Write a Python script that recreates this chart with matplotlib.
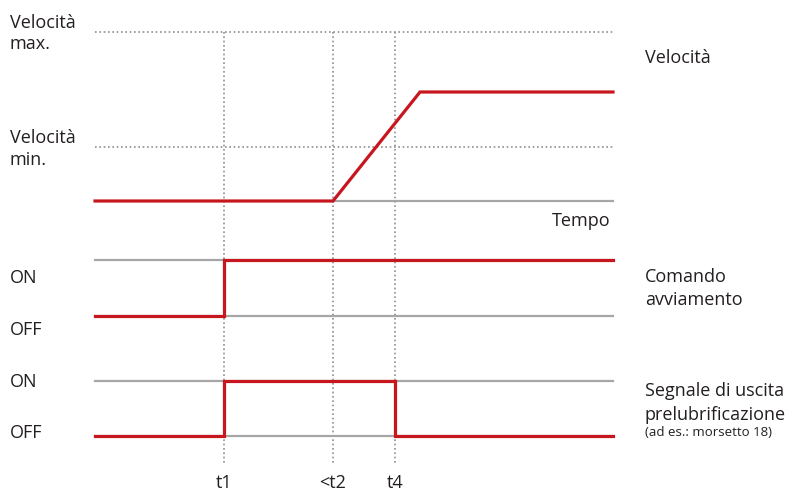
import matplotlib
matplotlib.use("Agg")
import matplotlib.pyplot as plt

plt.rcParams['font.family'] = ['Open Sans', 'DejaVu Sans']

# Time axis (pixel-like horizontal units)
t_start = 95
t1 = 224
t2 = 333
t4 = 395
t_ramp_end = 420
t_end = 613
tick_times = [t1, t2, t4]
tick_labels = ["t1", "<t2", "t4"]

# Vertical levels (pixel-like units, downward)
vel_max = 32
vel_min = 147
vel_top = 92
vel_zero = 201
cmd_on, cmd_off = 260, 316
pre_on, pre_off = 381, 436

# Traces
speed_t = [t_start, t2, t_ramp_end, t_end]
speed_v = [vel_zero, vel_zero, vel_top, vel_top]
cmd_t = [t_start, t1, t1, t_end]
cmd_v = [cmd_off, cmd_off, cmd_on, cmd_on]
pre_t = [t_start, t1, t1, t4, t4, t_end]
pre_v = [pre_off, pre_off, pre_on, pre_on, pre_off, pre_off]

RED = "#c8161e"
GRAY = "#a6a6a6"
DOT = "#8f8f8f"
TXT = "#231f20"

fig = plt.figure(figsize=(7.97, 4.91), dpi=100)
ax = fig.add_axes([0, 0, 1, 1])
ax.set_xlim(0, 797)
ax.set_ylim(491, 0)
ax.axis("off")

# dotted guides
dot_style = dict(color=DOT, lw=1.2, ls=(0, (1, 1.6)), zorder=1)
for y in [vel_max, vel_min]:
    ax.plot([t_start, t_end], [y, y], **dot_style)
for x in tick_times:
    ax.plot([x, x], [vel_max, 464], **dot_style)

# gray reference lines
ax.plot([t2, t_end], [vel_zero, vel_zero], color=GRAY, lw=1.6, zorder=2)
for y in [cmd_on, cmd_off, pre_on, pre_off]:
    ax.plot([t_start, t_end], [y, y], color=GRAY, lw=1.6, zorder=2)

# red traces
for tt, vv in [(speed_t, speed_v), (cmd_t, cmd_v), (pre_t, pre_v)]:
    ax.plot(tt, vv, color=RED, lw=2.3, solid_joinstyle="miter", zorder=3)

fs = 13
def txt(x, y, s, size=fs, ha="left"):
    ax.text(x, y, s, fontsize=size, color=TXT, va="baseline", ha=ha)

# left labels
txt(10, 28, "Velocità")
txt(10, 49, "max.")
txt(10, 143, "Velocità")
txt(10, 165, "min.")
for y, s in [(283, "ON"), (335, "OFF"), (387, "ON"), (438, "OFF")]:
    txt(10, y, s)

# right labels
txt(645, 63, "Velocità")
txt(645, 282, "Comando")
txt(645, 305, "avviamento")
txt(645, 396, "Segnale di uscita")
txt(645, 420, "prelubrificazione")
txt(645, 436, "(ad es.: morsetto 18)", size=9.5)
txt(611, 226, "Tempo", ha="right")

for x, s in zip(tick_times, tick_labels):
    txt(x, 488, s, ha="center")

fig.savefig("out.png", dpi=100)
